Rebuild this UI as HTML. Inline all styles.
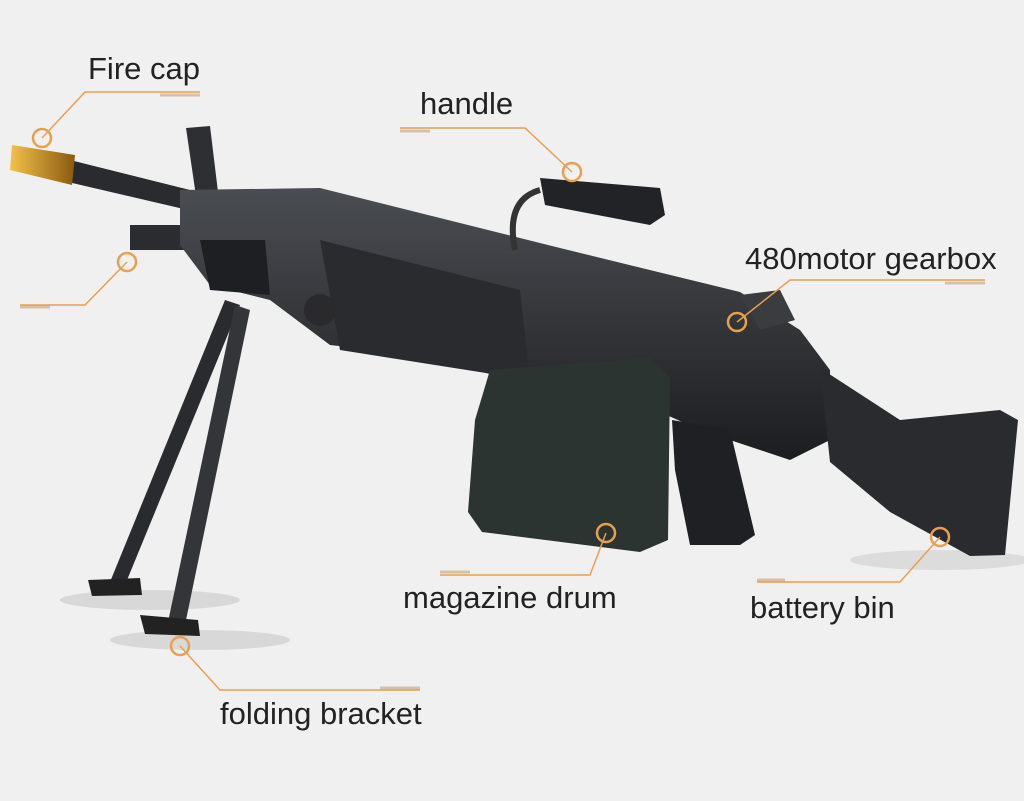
<!DOCTYPE html>
<html><head><meta charset="utf-8"><style>
html,body{margin:0;padding:0;background:#f0f0f0;}
svg{display:block}
text{font-family:"Liberation Sans",sans-serif;font-size:31px;fill:#222}
</style></head><body>
<svg width="1024" height="801" viewBox="0 0 1024 801">
<rect width="1024" height="801" fill="#f0f0f0"/>
<defs>
<linearGradient id="g" x1="0" y1="0" x2="0" y2="1"><stop offset="0" stop-color="#4a4d52"/><stop offset="1" stop-color="#1c1d20"/></linearGradient>
<linearGradient id="gold" x1="0" y1="0" x2="1" y2="0"><stop offset="0" stop-color="#f3c14a"/><stop offset="1" stop-color="#8a5a10"/></linearGradient>
</defs>
<ellipse cx="150" cy="600" rx="90" ry="10" fill="#d8d8d8"/>
<ellipse cx="200" cy="640" rx="90" ry="10" fill="#d8d8d8"/>
<ellipse cx="940" cy="560" rx="90" ry="10" fill="#dcdcdc"/>
<polygon points="225,300 240,305 125,585 110,582" fill="#2a2b2e"/>
<polygon points="235,305 250,310 185,625 168,622" fill="#333538"/>
<polygon points="88,580 140,578 142,595 92,596" fill="#222"/>
<polygon points="140,615 198,620 200,636 145,634" fill="#222"/>
<polygon points="70,160 190,190 188,210 68,182" fill="#2a2b2e"/>
<polygon points="12,145 75,155 72,185 10,170" fill="url(#gold)"/>
<polygon points="186,128 210,126 218,192 196,196" fill="#2e2f33"/>
<polygon points="130,225 180,225 185,250 130,250" fill="#2b2c30"/>
<polygon points="180,190 320,188 560,248 740,292 800,330 830,370 830,440 790,460 700,430 660,412 530,385 420,355 330,345 270,300 210,285 180,245" fill="url(#g)"/>
<polygon points="320,240 520,290 530,380 340,350" fill="#2a2b2f"/>
<polygon points="200,240 265,240 270,295 210,290" fill="#1e1f22"/>
<circle cx="320" cy="310" r="16" fill="#2a2a2d"/>
<path d="M515,250 Q505,200 540,190" stroke="#333" stroke-width="6" fill="none"/>
<polygon points="540,178 660,188 665,215 650,225 545,205" fill="#222326"/>
<polygon points="740,295 780,290 795,320 760,330" fill="#3a3c40"/>
<polygon points="490,370 650,358 670,378 668,540 640,552 482,532 468,512 475,420" fill="#2c3431"/>
<polygon points="672,420 730,430 755,535 740,545 690,545 675,470" fill="#1f2023"/>
<polygon points="820,368 900,420 1000,410 1018,420 1005,555 970,556 890,512 830,462" fill="#2a2b2e"/>
<g stroke="#e8a050" stroke-width="1.5" fill="none">
<polyline points="42,138 85,92 200,92"/>
<polyline points="127,262 85,305 20,305"/>
<polyline points="400,128 525,128 572,172"/>
<polyline points="737,322 790,280 985,280"/>
<polyline points="440,575 590,575 606,533"/>
<polyline points="757,582 900,582 940,537"/>
<polyline points="180,646 220,690 420,690"/>
</g>
<g stroke="#c8a080" stroke-width="3" opacity="0.6">
<line x1="160" y1="95" x2="200" y2="95"/><line x1="400" y1="131" x2="430" y2="131"/>
<line x1="20" y1="307" x2="50" y2="307"/><line x1="440" y1="572" x2="470" y2="572"/>
<line x1="757" y1="580" x2="785" y2="580"/><line x1="380" y1="688" x2="420" y2="688"/>
<line x1="945" y1="283" x2="985" y2="283"/>
</g>
<g stroke="#e8a050" stroke-width="2.5" fill="none">
<circle cx="42" cy="138" r="9"/><circle cx="127" cy="262" r="9"/><circle cx="572" cy="172" r="9"/>
<circle cx="737" cy="322" r="9"/><circle cx="606" cy="533" r="9"/><circle cx="940" cy="537" r="9"/><circle cx="180" cy="646" r="9"/>
</g>
<text x="88" y="79">Fire cap</text>
<text x="420" y="114">handle</text>
<text x="745" y="269">480motor gearbox</text>
<text x="403" y="608">magazine drum</text>
<text x="750" y="618">battery bin</text>
<text x="220" y="724">folding bracket</text>
</svg>
</body></html>
